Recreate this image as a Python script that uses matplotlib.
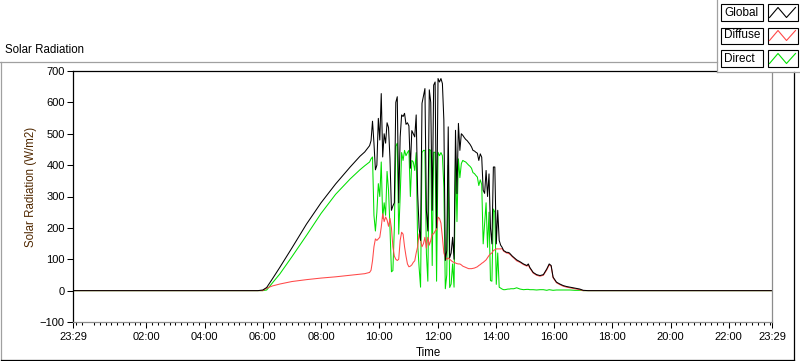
import numpy as np
import pandas as pd
import matplotlib
matplotlib.use("Agg")
import matplotlib.pyplot as plt
from matplotlib.lines import Line2D
from matplotlib.patches import Rectangle

'''
Solar radiation logger, one day from 23:29 to 23:29
'''

plt.rcParams['font.family'] = ['Liberation Sans', 'DejaVu Sans']

START = -31 / 60          # 23:29 of the day before, in hours
END = 23 + 29 / 60

# sunrise ramp
morning_times = ["05:50", "06:00", "06:08", "06:20", "06:35", "07:00", "07:30",
                 "08:00", "08:30", "09:00", "09:20", "09:30"]
morning_global = [0, 2, 10, 38, 74, 136, 212, 280, 340, 394, 428, 442]
morning_diffuse = [0, 0, 8, 15, 21, 29, 35, 40, 44, 49, 52, 54]
morning_direct = [0, 0, 2, 25, 53, 108, 176, 246, 307, 356, 385, 398]

# broken clouds, logger samples every 3 min from 09:40 to 14:37
midday_times = pd.date_range("2000-01-01 09:40", "2000-01-01 14:37", freq="3min")
midday_global = [462, 478, 540, 470, 385, 400, 549, 480, 628, 426,
                 500, 470, 535, 520, 420, 256, 270, 280, 600, 618,
                 280, 490, 560, 555, 565, 530, 535, 525, 390, 510,
                 500, 490, 560, 310, 200, 160, 597, 620, 644, 256,
                 190, 640, 600, 256, 655, 665, 200, 676, 665, 676,
                 660, 543, 96, 128, 522, 105, 120, 170, 100, 511,
                 309, 533, 447, 500, 495, 488, 482, 478, 472, 466,
                 458, 447, 445, 441, 438, 415, 436, 425, 320, 310,
                 383, 300, 372, 200, 149, 394, 394, 149, 256, 160,
                 145, 138, 128, 125, 122, 122, 120, 115, 110, 106]
midday_diffuse = [58, 65, 95, 140, 165, 160, 165, 170, 202, 245,
                  220, 235, 225, 205, 230, 200, 140, 110, 100, 96,
                  100, 160, 186, 180, 140, 110, 85, 76, 78, 82,
                  90, 95, 120, 140, 181, 160, 140, 150, 170, 135,
                  170, 145, 160, 180, 181, 190, 195, 234, 230, 215,
                  170, 120, 106, 100, 104, 100, 96, 92, 90, 88,
                  86, 85, 85, 82, 78, 76, 74, 72, 70, 70,
                  70, 71, 72, 74, 76, 80, 83, 87, 90, 94,
                  98, 105, 112, 117, 120, 128, 130, 133, 133, 133,
                  133, 134, 126, 123, 120, 119, 117, 113, 108, 104]
midday_direct = [410, 420, 426, 240, 190, 250, 341, 300, 410, 230,
                 280, 240, 380, 320, 200, 60, 64, 200, 460, 470,
                 180, 300, 440, 415, 447, 430, 440, 447, 300, 415,
                 410, 383, 440, 150, 74, 11, 440, 447, 447, 120,
                 30, 450, 447, 80, 441, 441, 30, 441, 430, 440,
                 430, 330, 6, 50, 400, 10, 21, 85, 11, 420,
                 220, 420, 360, 405, 415, 412, 410, 405, 400, 396,
                 390, 376, 373, 367, 362, 335, 353, 338, 149, 215,
                 280, 138, 250, 32, 30, 260, 250, 20, 120, 11,
                 8, 5, 3, 3, 4, 5, 5, 6, 6, 6]

# overcast afternoon, sunset
afternoon_times = ["14:43", "14:50", "14:57", "15:04", "15:07", "15:10", "15:17",
                   "15:24", "15:31", "15:38", "15:45", "15:50", "15:54", "15:58",
                   "16:05", "16:12", "16:19", "16:26", "16:33", "16:43", "16:53",
                   "17:00", "17:10"]
afternoon_global = [98, 92, 85, 80, 85, 74, 58, 51, 48, 51, 69, 85, 80, 43,
                    27, 21, 16, 13, 11, 8, 5, 1, 0]
afternoon_diffuse = [95, 90, 83, 78, 82, 72, 56, 49, 46, 49, 66, 82, 78, 41,
                     25, 19, 14, 11, 9, 6, 3, 0, 0]
afternoon_direct = [9, 5, 3, 4, 4, 3, 3, 2, 3, 3, 1, 3, 2, 1,
                    2, 2, 2, 2, 2, 1, 1, 0, 0]

tick_labels = ["23:29", "02:00", "04:00", "06:00", "08:00", "10:00", "12:00",
               "14:00", "16:00", "18:00", "20:00", "22:00", "23:29"]


def hours(labels):
    return [int(s[:2]) + int(s[3:]) / 60 for s in labels]


midday_hours = list(midday_times.hour + midday_times.minute / 60)
t = [START] + hours(morning_times) + midday_hours + hours(afternoon_times) + [END]
glob = [0] + morning_global + midday_global + afternoon_global + [0]
diff = [0] + morning_diffuse + midday_diffuse + afternoon_diffuse + [0]
direct = [0] + morning_direct + midday_direct + afternoon_direct + [0]

W, H = 800, 361
fig = plt.figure(figsize=(W / 100, H / 100), dpi=100)
fig.patch.set_facecolor('white')


def fx(x):
    return x / W


def fy(y):
    return 1 - y / H


ax = fig.add_axes([fx(73), fy(322), fx(772) - fx(73), fy(71) - fy(322)])

ax.plot(t, direct, color='#00e000', lw=0.75)
ax.plot(t, diff, color='#ff4848', lw=0.75)
ax.plot(t, glob, color='black', lw=0.75)

ax.set_xlim(START, END)
ax.set_ylim(-100, 700)
ax.set_yticks(range(-100, 701, 100))
ax.set_xticks([START] + list(range(2, 23, 2)) + [END])
ax.set_xticklabels(tick_labels)
minor = [m for m in np.arange(-0.4, 23.45, 0.2) if abs(m / 2 - round(m / 2)) > 0.01]
ax.set_xticks(minor, minor=True)

ax.tick_params(axis='both', which='major', direction='out', length=4.5, width=0.75,
               labelsize=8, color='black')
ax.tick_params(axis='x', which='major', pad=3)
ax.tick_params(axis='y', which='major', pad=1.5)
ax.tick_params(axis='x', which='minor', direction='out', length=2.5, width=0.75)

for side in ['top', 'left']:
    ax.spines[side].set_color('black')
    ax.spines[side].set_linewidth(0.9)
for side in ['bottom', 'right']:
    ax.spines[side].set_color('#8c8c8c')
    ax.spines[side].set_linewidth(0.9)

# panel frame
fig.add_artist(Line2D([fx(0), fx(717)], [fy(62), fy(62)], color='#a0a0a0', lw=0.9))
fig.add_artist(Line2D([fx(1), fx(1)], [fy(62), fy(359.5)], color='#a0a0a0', lw=0.9))
fig.add_artist(Line2D([fx(1), fx(793.5)], [fy(359.5), fy(359.5)], color='black', lw=0.9))
fig.add_artist(Line2D([fx(793.5), fx(793.5)], [fy(72), fy(359.5)], color='black', lw=0.9))

fig.text(fx(5), fy(50), "Solar Radiation", fontsize=8.3, ha='left', va='center')
fig.text(fx(31), fy(187), "Solar Radiation (W/m2)", fontsize=8.3, rotation=90,
         ha='center', va='center', color='#502800')
fig.text(fx(428), fy(353), "Time", fontsize=8.3, ha='center', va='center')

# legend
fig.add_artist(Rectangle((fx(717), fy(72)), fx(800) - fx(717), fy(0) - fy(72),
                         facecolor='white', edgecolor='none'))
fig.add_artist(Line2D([fx(717), fx(717)], [fy(0), fy(72)], color='#a0a0a0', lw=0.9))
fig.add_artist(Line2D([fx(717), fx(800)], [fy(72), fy(72)], color='#a0a0a0', lw=0.9))

names = ["Global", "Diffuse", "Direct"]
colors = ['black', '#ff4848', '#00e000']
for k, (name, col) in enumerate(zip(names, colors)):
    top = 4.5 + 23 * k
    bot = top + 16
    fig.add_artist(Rectangle((fx(721), fy(bot)), fx(763) - fx(721), fy(top) - fy(bot),
                             facecolor='white', edgecolor='black', lw=0.8))
    fig.add_artist(Rectangle((fx(768), fy(bot)), fx(798) - fx(768), fy(top) - fy(bot),
                             facecolor='white', edgecolor='black', lw=0.8))
    fig.text(fx(724), fy((top + bot) / 2), name, fontsize=8.5, ha='left', va='center')
    fig.add_artist(Line2D([fx(769.5), fx(778), fx(786.5), fx(795.5)],
                          [fy(bot - 3), fy(top + 3), fy(bot - 3), fy(top + 3)],
                          color=col, lw=0.8))

fig.savefig("out.png", dpi=100)
